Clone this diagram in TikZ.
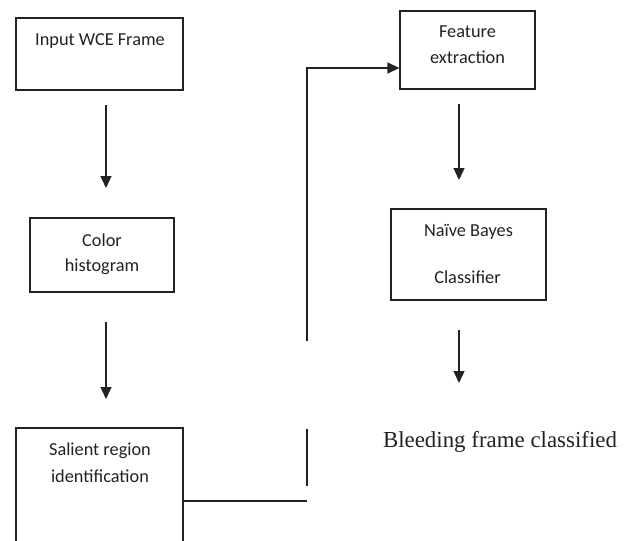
\documentclass[tikz,border=0pt]{standalone}
\usepackage{fontspec}
\setmainfont{Carlito}
\newfontfamily\serifont{Liberation Serif}
\usetikzlibrary{arrows.meta,calc}
\definecolor{ink}{HTML}{222222}
\tikzset{
  box/.style={draw=ink, line width=1.3pt, minimum width=#1, inner sep=0pt},
  lbl/.style={anchor=base, text=ink, font=\fontsize{18.3}{22}\selectfont, inner sep=0pt},
  arr/.style={draw=ink, line width=1.3pt, -{Triangle[width=11pt,length=12pt]}},
  wire/.style={draw=ink, line width=1.3pt}
}
\begin{document}
\begin{tikzpicture}[x=1pt,y=-1pt]
\useasboundingbox (0,0) rectangle (627,541);
\clip (0,0) rectangle (627,541);
% boxes
\node[box=167pt, minimum height=72pt] (b1) at (99.5,54) {};
\node[box=144pt, minimum height=74pt] (b2) at (102,255) {};
\node[box=167pt, minimum height=134pt] (b3) at (99.5,495) {};
\node[box=135pt, minimum height=78pt] (b4) at (467.5,50) {};
\node[box=155pt, minimum height=91pt] (b5) at (468.5,254.5) {};
% texts
\node[lbl] (t1) at (100,45) {Input WCE Frame};
\node[lbl] (t2a) at (102,246) {Color};
\node[lbl] (t2b) at (102,271) {histogram};
\node[lbl] (t3a) at (100,455) {Salient region};
\node[lbl] (t3b) at (100,482) {identification};
\node[lbl] (t4a) at (467.5,37) {Feature};
\node[lbl] (t4b) at (467.5,63) {extraction};
\node[lbl] (t5a) at (468.5,236) {Naïve Bayes};
\node[lbl] (t5b) at (467.5,283) {Classifier};
\node[anchor=base, text=ink, font=\serifont\fontsize{22.9}{26}\selectfont, inner sep=0pt] (out) at (500,447) {Bleeding frame classified};
% arrow coordinates
\coordinate (a1s) at (106,105);
\coordinate (a1e) at (106,188);
\coordinate (a2s) at (106,322);
\coordinate (a2e) at (106,399);
\coordinate (a3s) at (459,104);
\coordinate (a3e) at (459,180);
\coordinate (a4s) at (459,330);
\coordinate (a4e) at (459,383);
\draw[arr] (a1s) -- (a1e);
\draw[arr] (a2s) -- (a2e);
\draw[arr] (a3s) -- (a3e);
\draw[arr] (a4s) -- (a4e);
% broken connector from salient region to feature extraction
\coordinate (c1) at (307,501);
\coordinate (c2) at (307,486);
\coordinate (c3) at (307,429);
\coordinate (c4) at (307,341);
\coordinate (c5) at (307,68);
\draw[wire] (b3.east |- c1) -- (c1);
\draw[wire] (c2) -- (c3);
\draw[arr] (c4) -- (c5) -- (c5 -| b4.west);
\end{tikzpicture}
\end{document}
